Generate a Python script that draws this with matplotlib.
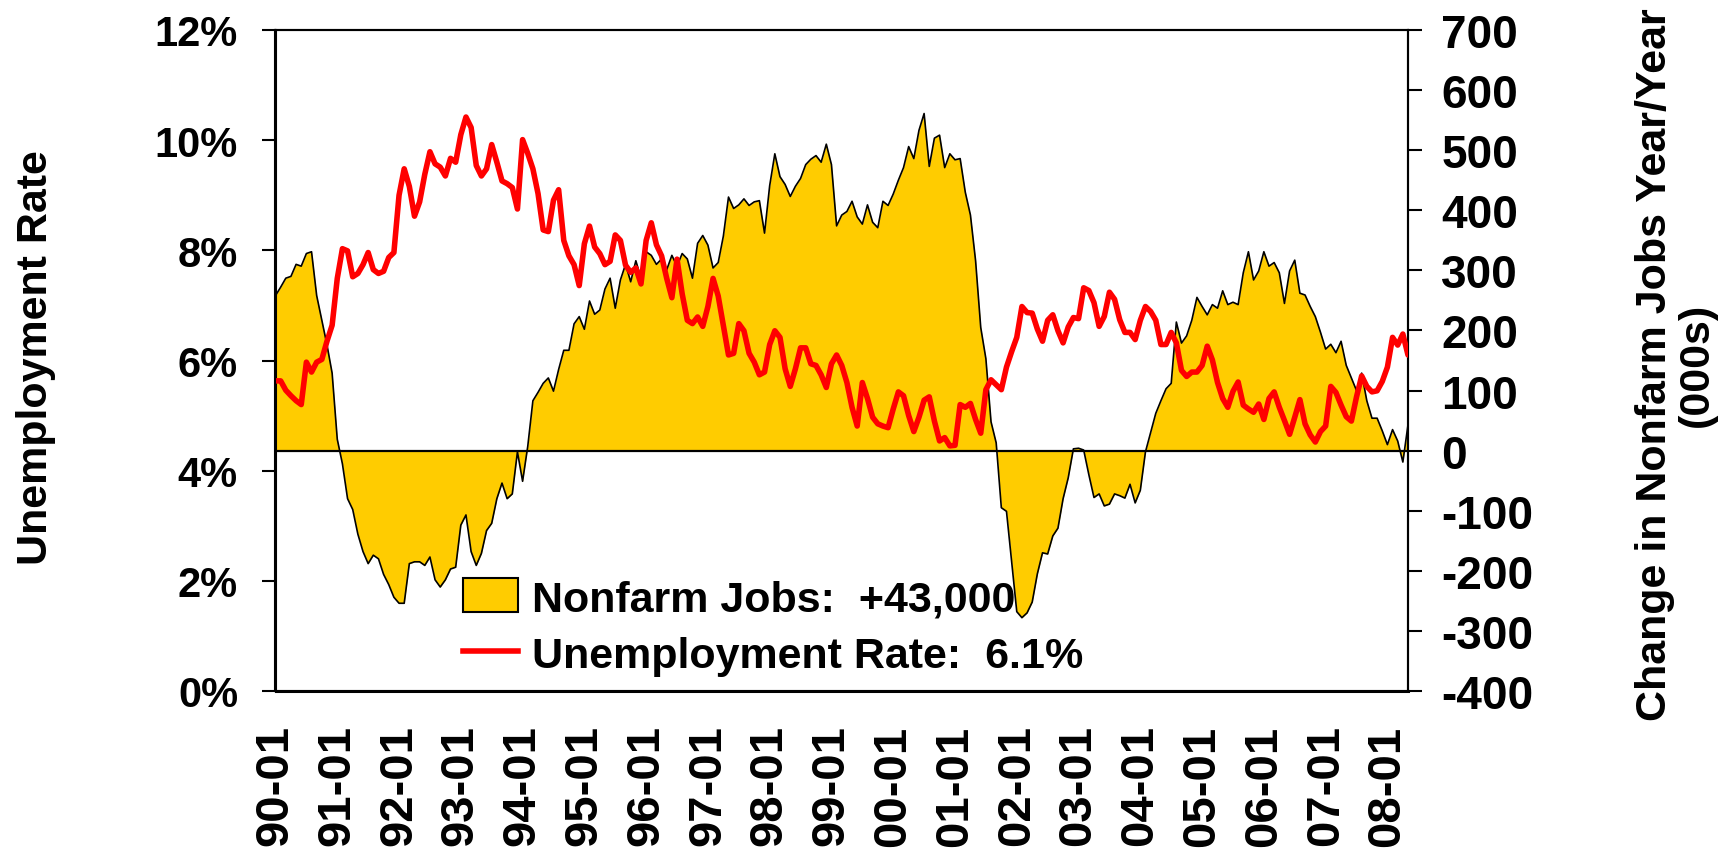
import numpy as np
import matplotlib
matplotlib.use("Agg")
import matplotlib.pyplot as plt
from matplotlib.patches import Patch
from matplotlib.lines import Line2D

plt.rcParams['font.family'] = ['Liberation Sans', 'DejaVu Sans']
plt.rcParams['font.weight'] = 'bold'

# Unemployment rate (%), monthly 1990-01 .. 2008-05
unemployment = [
    5.63, 5.63, 5.46, 5.36, 5.27, 5.20, 5.97, 5.79, 5.97, 6.02, 6.35, 6.64,   # 1990
    7.49, 8.03, 7.99, 7.52, 7.58, 7.74, 7.96, 7.65, 7.58, 7.62, 7.87, 7.96,   # 1991
    9.00, 9.48, 9.16, 8.62, 8.88, 9.38, 9.79, 9.57, 9.51, 9.35, 9.67, 9.60,   # 1992
    10.10, 10.42, 10.23, 9.54, 9.35, 9.48, 9.92, 9.60, 9.26, 9.21, 9.14, 8.75,  # 1993
    10.01, 9.76, 9.48, 9.03, 8.37, 8.34, 8.91, 9.10, 8.18, 7.90, 7.74, 7.36,  # 1994
    8.12, 8.44, 8.06, 7.94, 7.74, 7.80, 8.28, 8.18, 7.73, 7.60, 7.68, 7.39,   # 1995
    8.18, 8.50, 8.10, 7.90, 7.49, 7.14, 7.84, 7.21, 6.73, 6.67, 6.79, 6.62,   # 1996
    6.98, 7.49, 7.17, 6.64, 6.10, 6.13, 6.67, 6.54, 6.13, 5.97, 5.74, 5.79,   # 1997
    6.29, 6.54, 6.42, 5.85, 5.53, 5.85, 6.23, 6.23, 5.94, 5.91, 5.74, 5.51,   # 1998
    5.94, 6.10, 5.91, 5.60, 5.15, 4.81, 5.60, 5.31, 4.97, 4.85, 4.81, 4.78,   # 1999
    5.12, 5.43, 5.36, 5.00, 4.71, 4.97, 5.28, 5.34, 4.90, 4.54, 4.60, 4.45,   # 2000
    4.46, 5.20, 5.15, 5.22, 4.93, 4.68, 5.47, 5.65, 5.56, 5.47, 5.88, 6.16,   # 2001
    6.42, 6.98, 6.87, 6.86, 6.57, 6.35, 6.73, 6.83, 6.54, 6.32, 6.61, 6.78,   # 2002
    6.76, 7.32, 7.27, 7.05, 6.62, 6.80, 7.24, 7.11, 6.74, 6.51, 6.51, 6.38,   # 2003
    6.73, 6.98, 6.89, 6.73, 6.29, 6.29, 6.51, 6.32, 5.82, 5.71, 5.79, 5.79,   # 2004
    5.91, 6.26, 6.01, 5.60, 5.31, 5.15, 5.44, 5.61, 5.19, 5.12, 5.06, 5.21,   # 2005
    4.93, 5.31, 5.43, 5.15, 4.91, 4.66, 4.97, 5.29, 4.85, 4.65, 4.52, 4.71,   # 2006
    4.81, 5.53, 5.42, 5.19, 4.98, 4.90, 5.34, 5.72, 5.53, 5.43, 5.45, 5.62,   # 2007
    5.88, 6.42, 6.28, 6.48, 6.10,                                             # 2008
]

# Change in nonfarm jobs year/year (000s)
nonfarm_change = [
    258, 272, 287, 290, 310, 307, 328, 331, 258, 217, 176, 129,
    19, -22, -80, -98, -139, -168, -188, -174, -180, -206, -223, -244,
    -254, -254, -188, -185, -185, -191, -177, -215, -227, -215, -197, -194,
    -124, -107, -168, -191, -171, -133, -121, -80, -54, -80, -72, -2,
    -51, 7, 83, 97, 112, 121, 99, 135, 167, 167, 211, 223,
    202, 249, 227, 234, 269, 287, 237, 284, 310, 281, 316, 287,
    331, 325, 310, 319, 301, 325, 307, 328, 319, 287, 345, 358,
    342, 304, 313, 357, 422, 403, 409, 419, 408, 414, 416, 362,
    441, 494, 456, 443, 423, 440, 453, 476, 485, 491, 480, 510,
    476, 374, 392, 398, 415, 389, 377, 409, 380, 371, 415, 408,
    427, 450, 471, 506, 486, 533, 561, 473, 520, 525, 471, 494,
    484, 486, 430, 392, 316, 205, 153, 48, 13, -95, -101, -185,
    -268, -278, -270, -252, -205, -170, -172, -142, -129, -80, -45, 3,
    4, 1, -40, -78, -72, -92, -89, -72, -75, -79, -56, -87,
    -66, -2, 30, 62, 83, 103, 112, 214, 179, 191, 217, 255,
    240, 226, 243, 237, 266, 243, 247, 243, 296, 331, 284, 299,
    331, 307, 313, 296, 245, 299, 317, 262, 259, 240, 223, 197,
    169, 177, 163, 182, 142, 121, 100, 129, 83, 54, 54, 33,
    10, 35, 16, -19, 43,
]

x_tick_labels = ["90-01", "91-01", "92-01", "93-01", "94-01", "95-01", "96-01",
                 "97-01", "98-01", "99-01", "00-01", "01-01", "02-01", "03-01",
                 "04-01", "05-01", "06-01", "07-01", "08-01"]
left_ticks = [0, 2, 4, 6, 8, 10, 12]
right_ticks = [-400, -300, -200, -100, 0, 100, 200, 300, 400, 500, 600, 700]

legend_labels = ["Nonfarm Jobs:  +43,000", "Unemployment Rate:  6.1%"]

x = np.arange(len(unemployment))
jobs = np.array(nonfarm_change, dtype=float)

W, H = 1728, 854
L, R, T, B = 275.5, 1408, 31, 692
fig = plt.figure(figsize=(W / 100, H / 100), dpi=100)
ax = fig.add_axes([L / W, 1 - B / H, (R - L) / W, (B - T) / H])
ax2 = ax.twinx()

YELLOW = '#FFCC00'

# Jobs (right axis)
ax2.fill_between(x, jobs, 0, color=YELLOW, linewidth=0, zorder=1)
ax2.plot(x, jobs, color='black', lw=1.2, zorder=2)
ax2.axhline(0, color='black', lw=1.6, zorder=3)
ax2.set_ylim(-400, 700)
ax2.set_yticks(right_ticks)
ax2.set_yticklabels([str(v) for v in right_ticks], fontsize=33, fontweight='bold')
ax2.tick_params(axis='y', direction='out', length=10, width=1.5, pad=14)

# Unemployment (left axis) drawn on top
ax.set_zorder(ax2.get_zorder() + 1)
ax.patch.set_visible(False)
ax.plot(x, unemployment, color='#FF0000', lw=4.0, solid_joinstyle='round',
        solid_capstyle='round', zorder=5)
ax.set_ylim(0, 12)
ax.set_yticks(left_ticks)
ax.set_yticklabels([f"{v}%" for v in left_ticks], fontsize=30, fontweight='bold')
ax.tick_params(axis='y', direction='out', length=10, width=1.5, pad=17)

ax.set_xlim(0, len(unemployment) - 1)
ax.set_xticks(np.arange(0, len(unemployment), 12))
ax.set_xticklabels(x_tick_labels, rotation=90, fontsize=34, fontweight='bold')
ax.tick_params(axis='x', length=0, pad=24)

for a in (ax, ax2):
    for s in a.spines.values():
        s.set_linewidth(1.5)
ax.spines['bottom'].set_linewidth(2.2)

fig.text(36 / W, 1 - 358 / H, "Unemployment Rate", rotation=90, ha='center', va='center',
         fontsize=31, fontweight='bold')
fig.text(1676 / W, 1 - 365 / H, "Change in Nonfarm Jobs Year/Year\n(000s)", rotation=90,
         ha='center', va='center', multialignment='center', linespacing=1.05,
         fontsize=31, fontweight='bold')

handles = [Patch(facecolor=YELLOW, edgecolor='black', linewidth=1.5),
           Line2D([0], [0], color='#FF0000', lw=4.0)]
leg = ax.legend(handles, legend_labels, loc='center left', bbox_to_anchor=(0.1656, 0.0968),
                frameon=False, prop={'weight': 'bold', 'size': 31},
                handlelength=1.28, handleheight=0.84, handletextpad=0.33,
                labelspacing=0.36, borderpad=0, borderaxespad=0)

fig.savefig("out.png", dpi=100)
